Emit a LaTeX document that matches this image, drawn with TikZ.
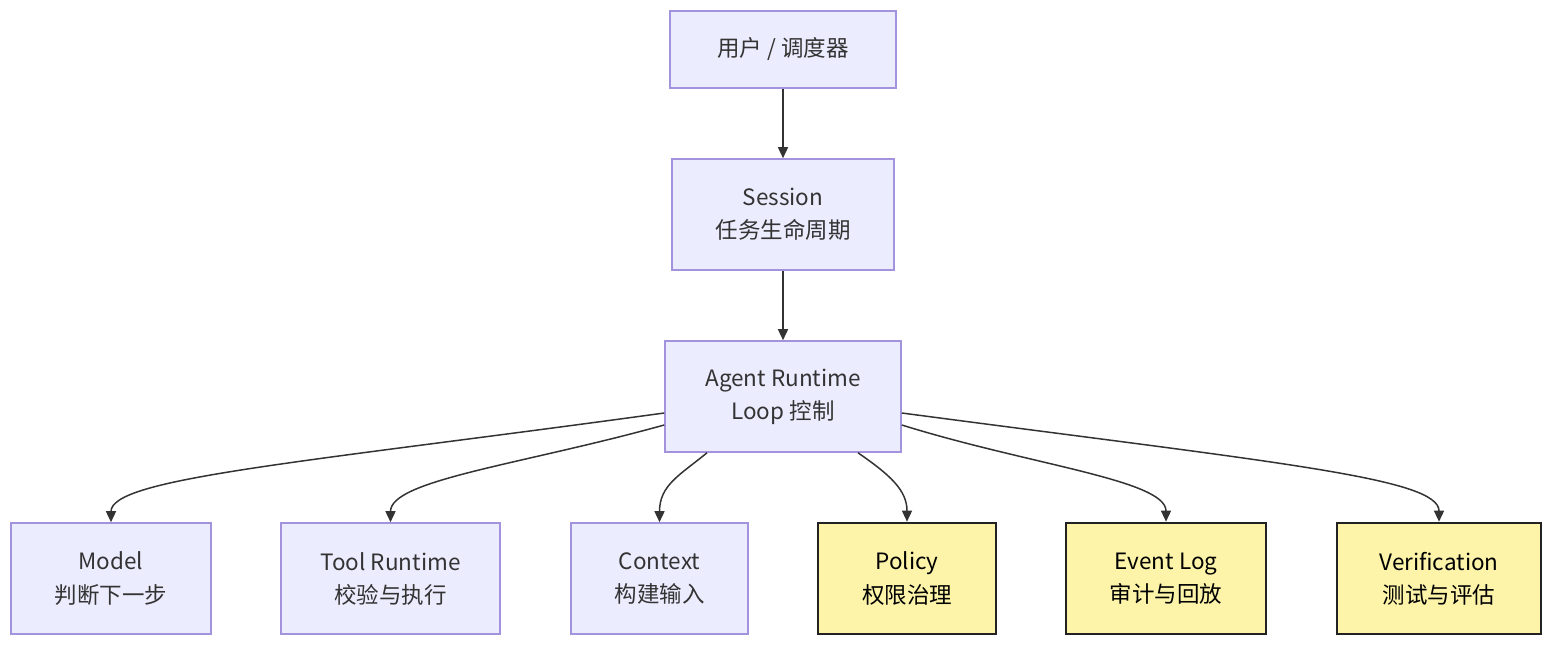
\documentclass[tikz,border=0pt]{standalone}
\usepackage{fontspec}
\usepackage{xcolor}
\usepackage{tikz}
\usetikzlibrary{arrows.meta}
\setmainfont{Noto Sans CJK SC}
\definecolor{RTFill}{HTML}{ECECFF}
\definecolor{RTLine}{HTML}{A392DC}
\definecolor{GovFill}{HTML}{FDF4AA}
\definecolor{GovLine}{HTML}{222222}
\definecolor{FlowLine}{HTML}{333333}
\tikzset{
  rtbox/.style={draw=RTLine,fill=RTFill,line width=0.9pt,inner sep=0pt,align=center,
    font=\fontsize{12.8}{18.8}\selectfont,text=black!80},
  govbox/.style={draw=GovLine,fill=GovFill,line width=1.5pt,inner sep=0pt,align=center,
    font=\fontsize{12.8}{18.8}\selectfont,text=black},
  flow/.style={draw=FlowLine,line width=0.85pt,-{Triangle[length=0.22cm,width=0.2cm]}}
}

\begin{document}
\begin{tikzpicture}[x=1cm,y=1cm]
\path[use as bounding box] (0,0) rectangle (31.36,13.08);
% top chain
\node[rtbox,minimum width=4.52cm,minimum height=1.54cm] (user) at (15.66,12.09) {用户 / 调度器};
\node[rtbox,minimum width=4.44cm,minimum height=2.22cm] (session) at (15.66,8.79) {Session\\任务生命周期};
\node[rtbox,minimum width=4.72cm,minimum height=2.22cm] (agent) at (15.66,5.15) {Agent Runtime\\Loop 控制};
% bottom row
\node[rtbox,minimum width=4.00cm,minimum height=2.22cm] (model) at (2.22,1.51) {Model\\判断下一步};
\node[rtbox,minimum width=4.38cm,minimum height=2.22cm] (tool) at (7.81,1.51) {Tool Runtime\\校验与执行};
\node[rtbox,minimum width=3.54cm,minimum height=2.22cm] (context) at (13.19,1.51) {Context\\构建输入};
\node[govbox,minimum width=3.56cm,minimum height=2.22cm] (policy) at (18.14,1.51) {Policy\\权限治理};
\node[govbox,minimum width=4.00cm,minimum height=2.22cm] (eventlog) at (23.32,1.51) {Event Log\\审计与回放};
\node[govbox,minimum width=4.08cm,minimum height=2.22cm] (verify) at (28.78,1.51) {Verification\\测试与评估};
% connectors
\draw[flow] (user) -- (session);
\draw[flow] (session) -- (agent);
\draw[flow] ([yshift=-0.33cm]agent.west) .. controls (6.0,3.82) and (2.22,3.52) .. (model.north);
\draw[flow] ([yshift=-0.57cm]agent.west) .. controls (10.4,3.78) and (7.81,3.48) .. (tool.north);
\draw[flow] ([xshift=-1.52cm]agent.south) .. controls (13.6,3.58) and (13.19,3.38) .. (context.north);
\draw[flow] ([xshift=1.5cm]agent.south) .. controls (17.8,3.58) and (18.14,3.28) .. (policy.north);
\draw[flow] ([yshift=-0.57cm]agent.east) .. controls (20.6,3.78) and (23.32,3.48) .. (eventlog.north);
\draw[flow] ([yshift=-0.33cm]agent.east) .. controls (25.6,3.82) and (28.78,3.52) .. (verify.north);
\end{tikzpicture}
\end{document}
